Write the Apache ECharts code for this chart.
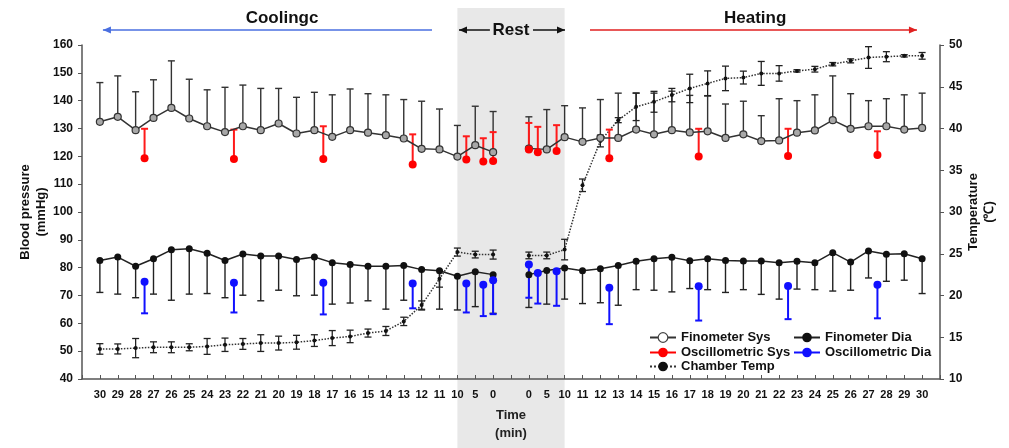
<!DOCTYPE html>
<html>
<head>
<meta charset="utf-8">
<script src="https://cdn.jsdelivr.net/npm/echarts@6/dist/echarts.min.js"></script>
<style>
html,body{margin:0;padding:0;background:#fff;}
#c{width:1009px;height:448px;}
</style>
</head>
<body>
<div id="c"></div>
<script>
// ---------- data ----------
const xLabels = ['30','29','28','27','26','25','24','23','22','21','20','19','18','17','16','15','14','13','12','11','10','5','0','','0','5','10','11','12','13','14','15','16','17','18','19','20','21','22','23','24','25','26','27','28','29','30'];

const finSys = [132.4,134.2,129.4,133.8,137.4,133.6,130.8,128.7,130.8,129.4,131.8,128.2,129.4,127.0,129.4,128.5,127.6,126.4,122.7,122.5,
  119.9,124.0,121.5,null,122.8,122.5,126.9,
  125.2,126.6,126.6,129.6,127.9,129.4,128.6,129.0,126.6,127.9,125.5,125.7,128.5,129.3,133.0,129.9,130.8,130.8,129.6,130.2];
const finSysSD = [14.1,14.7,13.8,13.7,16.9,14.1,13.1,16.1,14.8,15.0,12.6,13.0,13.6,15.1,14.8,14.0,14.5,14.0,17.1,14.5,
  11.2,14.0,14.6,null,11.4,14.3,11.3,
  12.2,13.8,16.1,13.1,14.8,14.0,13.3,12.8,12.2,11.9,9.1,15.0,11.5,12.8,15.9,12.6,9.2,9.9,12.5,12.5];

const finDia = [82.6,83.8,80.5,83.2,86.4,86.8,85.2,82.6,84.9,84.2,84.2,82.9,83.8,81.8,81.1,80.5,80.5,80.8,79.3,78.9,
  76.9,78.5,77.5,null,77.5,79.0,79.9,
  78.9,79.6,80.8,82.3,83.2,83.7,82.5,83.2,82.6,82.4,82.4,81.8,82.3,81.8,85.4,82.0,86.0,84.8,85.0,83.2];
const finDiaSD = [11.5,13.3,11.3,12.7,18.1,16.3,14.5,13.4,14.8,16.1,12.3,13.0,13.7,14.9,13.8,12.4,15.4,12.5,14.5,13.8,
  12.1,12.5,13.9,null,11.8,12.1,11.2,
  11.8,12.2,14.3,10.2,11.3,12.4,10.0,11.1,11.5,10.3,12.0,13.1,10.0,9.7,13.8,10.1,9.7,9.7,9.5,12.5];

const chamberTemp = [13.6,13.6,13.7,13.8,13.8,13.8,13.9,14.1,14.2,14.3,14.3,14.4,14.6,14.9,15.1,15.5,15.75,16.9,18.85,22.0,
  25.2,24.9,24.9,null,24.8,24.8,25.5,
  33.2,38.5,41.0,42.6,43.2,44.0,44.8,45.4,46.0,46.1,46.6,46.6,46.9,47.1,47.7,48.1,48.5,48.6,48.7,48.7];
const chamberTempSD = [0.63,0.6,1.15,0.65,0.65,0.42,0.95,0.8,0.65,1.0,0.83,0.83,0.7,0.9,0.75,0.48,0.54,0.5,0.5,1.0,
  0.48,0.4,0.54,null,0.4,0.4,1.23,
  0.75,0.7,0.3,1.65,1.25,0.8,1.7,1.5,1.47,0.77,1.43,0.93,0.14,0.34,0.2,0.24,1.3,0.6,0.14,0.4];

const oscX = [2.5,7.5,12.5,17.5,20.5,21.45,22.0,24.0,24.5,25.55,28.5,33.5,38.5,43.5];
const oscSys = [119.3,119.0,119.0,117.1,118.9,118.1,118.3,122.5,121.5,121.9,119.3,119.9,120.1,120.5];
const oscSysSD = [10.6,10.6,11.8,10.8,8.3,8.4,10.4,9.5,9.1,9.3,10.3,10.0,9.8,8.5];
const oscDia = [74.9,74.6,74.6,74.3,74.3,73.9,75.5,81.1,78.1,78.7,72.8,73.3,73.4,73.9];
const oscDiaSD = [11.3,10.7,11.4,8.9,10.4,11.3,12.2,11.9,11.0,12.4,13.1,12.3,11.9,12.1];

// ---------- helpers ----------
const FONT = 'Liberation Sans, Arial, Helvetica, sans-serif';
const pts = (arr) => arr.map((v, i) => [i, v == null ? '-' : v]);
const upBars = (xs, mean, sd) => mean.map((m, i) => m == null ? null : [xs[i], m, m + sd[i]]).filter(d => d);
const downBars = (xs, mean, sd) => mean.map((m, i) => m == null ? null : [xs[i], m, m - sd[i]]).filter(d => d);
const idx = xLabels.map((_, i) => i);

function oneSided(color, width) {
  return function (params, api) {
    const a = api.coord([api.value(0), api.value(1)]);
    const b = api.coord([api.value(0), api.value(2)]);
    const st = { stroke: color, lineWidth: width };
    return { type: 'group', children: [
      { type: 'line', shape: { x1: a[0], y1: a[1], x2: b[0], y2: b[1] }, style: st },
      { type: 'line', shape: { x1: b[0] - 3.5, y1: b[1], x2: b[0] + 3.5, y2: b[1] }, style: st }
    ]};
  };
}
function twoSided(color, width) {
  return function (params, api) {
    const a = api.coord([api.value(0), api.value(1)]);
    const b = api.coord([api.value(0), api.value(2)]);
    const st = { stroke: color, lineWidth: width };
    return { type: 'group', children: [
      { type: 'line', shape: { x1: a[0], y1: a[1], x2: b[0], y2: b[1] }, style: st },
      { type: 'line', shape: { x1: a[0] - 3.5, y1: a[1], x2: a[0] + 3.5, y2: a[1] }, style: st },
      { type: 'line', shape: { x1: b[0] - 3.5, y1: b[1], x2: b[0] + 3.5, y2: b[1] }, style: st }
    ]};
  };
}
const tempBars = chamberTemp.map((m, i) => m == null ? null : [i, m - chamberTempSD[i], m + chamberTempSD[i]]).filter(d => d);

const chart = echarts.init(document.getElementById('c'), null, { renderer: 'canvas' });

const legendText = { fontFamily: FONT, fontWeight: 'bold', fontSize: 13, color: '#111' };
function leg(name, left, top, extra) {
  return { data: [Object.assign({ name: name }, extra || {})], left: left, top: top, itemWidth: 26, itemHeight: 12,
    textStyle: legendText, selectedMode: false, padding: 0 };
}

const option = {
  animation: false,
  backgroundColor: '#fff',
  grid: { left: 82, right: 69, top: 45, bottom: 69, containLabel: false, outerBoundsMode: 'none' },
  legend: [
    leg('Finometer Sys', 649, 331, { itemStyle: { color: '#ffffff', borderColor: '#444', borderWidth: 1.2 } }),
    leg('Finometer Dia', 793, 331),
    leg('Oscillometric Sys', 649, 346, { lineStyle: { color: '#ff0000', width: 2, opacity: 1 } }),
    leg('Oscillometric Dia', 793, 346, { lineStyle: { color: '#1010ff', width: 2, opacity: 1 } }),
    leg('Chamber Temp', 649, 360)
  ],
  xAxis: {
    type: 'value', min: -1, max: 47, interval: 1,
    name: 'Time\n(min)', nameLocation: 'middle', nameGap: 27,
    nameTextStyle: { fontFamily: FONT, fontWeight: 'bold', fontSize: 13, color: '#222', lineHeight: 18 },
    axisLine: { onZero: false, lineStyle: { color: '#555', width: 1.5 } },
    axisTick: { inside: true, length: 4, lineStyle: { color: '#555' } },
    splitLine: { show: false },
    axisLabel: {
      margin: 10, fontFamily: FONT, fontWeight: 'bold', fontSize: 11, color: '#111',
      formatter: (v) => (Number.isInteger(v) && v >= 0 && v < xLabels.length) ? xLabels[v] : ''
    }
  },
  yAxis: [
    {
      type: 'value', min: 40, max: 160, interval: 10, position: 'left',
      name: 'Blood pressure\n(mmHg)', nameLocation: 'middle', nameGap: 33, nameRotate: 90, nameMoveOverlap: false,
      nameTextStyle: { fontFamily: FONT, fontWeight: 'bold', fontSize: 13, color: '#111', lineHeight: 16 },
      axisLine: { show: true, onZero: false, lineStyle: { color: '#555', width: 1.5 } },
      axisTick: { show: true, length: 4, lineStyle: { color: '#555' } },
      splitLine: { show: false },
      axisLabel: { margin: 9, fontFamily: FONT, fontWeight: 'bold', fontSize: 12, color: '#111' }
    },
    {
      type: 'value', min: 10, max: 50, interval: 5, position: 'right',
      name: 'Temperature\n(℃)', nameLocation: 'middle', nameGap: 25, nameRotate: 90, nameMoveOverlap: false,
      nameTextStyle: { fontFamily: FONT, fontWeight: 'bold', fontSize: 13, color: '#111', lineHeight: 16 },
      axisLine: { show: true, onZero: false, lineStyle: { color: '#555', width: 1.5 } },
      axisTick: { show: true, length: 4, lineStyle: { color: '#555' } },
      splitLine: { show: false },
      axisLabel: { margin: 9, fontFamily: FONT, fontWeight: 'bold', fontSize: 12, color: '#111' }
    }
  ],
  series: [
    { type: 'custom', name: 'sysErr', renderItem: oneSided('#333', 1.4), data: upBars(idx, finSys, finSysSD),
      encode: { x: 0, y: [1, 2] }, z: 1, silent: true },
    { type: 'custom', name: 'diaErr', renderItem: oneSided('#222', 1.4), data: downBars(idx, finDia, finDiaSD),
      encode: { x: 0, y: [1, 2] }, z: 1, silent: true },
    { type: 'custom', name: 'tempErr', yAxisIndex: 1, renderItem: twoSided('#222', 1.3), data: tempBars,
      encode: { x: 0, y: [1, 2] }, z: 1, silent: true },
    { type: 'custom', name: 'oscSysErr', renderItem: oneSided('#ff1a1a', 2), data: upBars(oscX, oscSys, oscSysSD),
      encode: { x: 0, y: [1, 2] }, z: 3, silent: true },
    { type: 'custom', name: 'oscDiaErr', renderItem: oneSided('#1010ff', 2), data: downBars(oscX, oscDia, oscDiaSD),
      encode: { x: 0, y: [1, 2] }, z: 3, silent: true },
    { type: 'line', name: 'Chamber Temp', yAxisIndex: 1, data: pts(chamberTemp), connectNulls: false,
      symbol: 'circle', symbolSize: 4, color: '#111',
      lineStyle: { color: '#333', width: 1.5, type: 'dotted' }, itemStyle: { color: '#111' }, z: 2 },
    { type: 'line', name: 'Finometer Sys', data: pts(finSys), connectNulls: false,
      symbol: 'circle', symbolSize: 7, color: '#444',
      lineStyle: { color: '#333', width: 1.5 }, itemStyle: { color: '#a8a8a8', borderColor: '#333', borderWidth: 1.2 }, z: 4 },
    { type: 'line', name: 'Finometer Dia', data: pts(finDia), connectNulls: false,
      symbol: 'circle', symbolSize: 7, color: '#111',
      lineStyle: { color: '#222', width: 1.5 }, itemStyle: { color: '#111' }, z: 4 },
    { type: 'line', name: 'Oscillometric Sys', data: oscX.map((x, i) => [x, oscSys[i]]),
      symbol: 'circle', symbolSize: 8, color: '#ff0000',
      lineStyle: { opacity: 0 }, itemStyle: { color: '#ff0000' }, z: 5 },
    { type: 'line', name: 'Oscillometric Dia', data: oscX.map((x, i) => [x, oscDia[i]]),
      symbol: 'circle', symbolSize: 8, color: '#1010ff',
      lineStyle: { opacity: 0 }, itemStyle: { color: '#1010ff' }, z: 5 }
  ]
};
chart.setOption(option);

// ---------- annotations positioned through the x scale ----------
const px = (v) => chart.convertToPixel({ xAxisIndex: 0 }, v);
const AY = 30;
function arrowHead(x, dir, color) {
  return { type: 'polygon', shape: { points: [[x, AY], [x - dir * 8, AY - 3.5], [x - dir * 8, AY + 3.5]] }, style: { fill: color } };
}
const bx0 = px(0.17), bx1 = px(18.58), rx0 = px(27.42), rx1 = px(45.71);
const sl0 = px(20.09), sl1 = px(21.82), sr0 = px(24.23), sr1 = px(26.02);
const titleFont = 'bold 17px ' + FONT;
chart.setOption({
  graphic: { elements: [
    { type: 'rect', z: -10, silent: true, shape: { x: px(20), y: 8, width: px(26) - px(20), height: 440 }, style: { fill: '#e8e8e8' } },
    { type: 'line', shape: { x1: bx0, y1: AY, x2: bx1, y2: AY }, style: { stroke: '#4a6fe0', lineWidth: 1.5 } },
    arrowHead(bx0, -1, '#4a6fe0'),
    { type: 'text', style: { text: 'Coolingc', x: px(10.19), y: 18, align: 'center', verticalAlign: 'middle', font: titleFont, fill: '#111' } },
    { type: 'line', shape: { x1: rx0, y1: AY, x2: rx1, y2: AY }, style: { stroke: '#e02020', lineWidth: 1.5 } },
    arrowHead(rx1, 1, '#e02020'),
    { type: 'text', style: { text: 'Heating', x: px(36.66), y: 18, align: 'center', verticalAlign: 'middle', font: titleFont, fill: '#111' } },
    { type: 'line', shape: { x1: sl0, y1: AY, x2: sl1, y2: AY }, style: { stroke: '#111', lineWidth: 1.5 } },
    arrowHead(sl0, -1, '#111'),
    { type: 'line', shape: { x1: sr0, y1: AY, x2: sr1, y2: AY }, style: { stroke: '#111', lineWidth: 1.5 } },
    arrowHead(sr1, 1, '#111'),
    { type: 'text', style: { text: 'Rest', x: px(23), y: AY, align: 'center', verticalAlign: 'middle', font: titleFont, fill: '#111' } }
  ]}
});
</script>
</body>
</html>
